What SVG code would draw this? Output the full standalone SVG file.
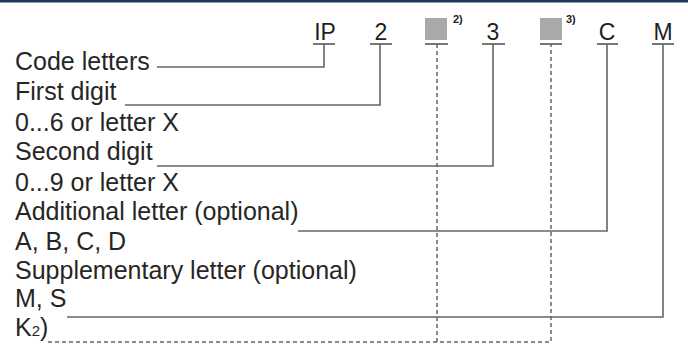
<svg xmlns="http://www.w3.org/2000/svg" width="688" height="347" viewBox="0 0 688 347">
<style>
.lbl{font-family:"Liberation Sans",Arial,sans-serif;font-size:25px;fill:#262626}
.hd{font-family:"Liberation Sans",Arial,sans-serif;font-size:23px;fill:#1e1e1e;text-anchor:middle}
.sup{font-family:"Liberation Sans",Arial,sans-serif;font-size:11px;font-weight:bold;fill:#1e1e1e}
.ln{fill:none;stroke:#666;stroke-width:1.6}
.dl{fill:none;stroke:#666;stroke-width:1.5;stroke-dasharray:4 3}
.ul{stroke:#555;stroke-width:1.6}
.sq{fill:#a9a9a9}
</style>
<rect x="0" y="0" width="688" height="347" fill="#fff"/>
<rect x="0" y="0" width="688" height="2.5" fill="#1b3a5e"/>
<g id="header">
<g id="h-ip"><text class="hd" x="325" y="40">IP</text><line class="ul" x1="313" y1="44" x2="335" y2="44"/></g>
<g id="h-2"><text class="hd" x="381" y="40">2</text><line class="ul" x1="370" y1="44" x2="392" y2="44"/></g>
<g id="h-sq2"><rect class="sq" x="425" y="18" width="22" height="22"/><text class="sup" x="453" y="23">2)</text><line class="ul" x1="425" y1="44" x2="448" y2="44"/></g>
<g id="h-3"><text class="hd" x="493" y="40">3</text><line class="ul" x1="482" y1="44" x2="505" y2="44"/></g>
<g id="h-sq3"><rect class="sq" x="540" y="18" width="22" height="22"/><text class="sup" x="566" y="23">3)</text><line class="ul" x1="540" y1="44" x2="562" y2="44"/></g>
<g id="h-c"><text class="hd" x="607" y="40">C</text><line class="ul" x1="597" y1="44" x2="618" y2="44"/></g>
<g id="h-m"><text class="hd" x="663" y="40">M</text><line class="ul" x1="652" y1="44" x2="674" y2="44"/></g>
</g>
<g id="labels">
<g id="l-code"><text class="lbl" x="15" y="70">Code letters</text></g>
<g id="l-first"><text class="lbl" x="15" y="100">First digit</text></g>
<g id="l-06"><text class="lbl" x="15" y="131">0...6 or letter X</text></g>
<g id="l-second"><text class="lbl" x="15" y="160">Second digit</text></g>
<g id="l-09"><text class="lbl" x="15" y="191">0...9 or letter X</text></g>
<g id="l-add"><text class="lbl" x="15" y="220">Additional letter (optional)</text></g>
<g id="l-abcd"><text class="lbl" x="15" y="250">A, B, C, D</text></g>
<g id="l-supp"><text class="lbl" x="15" y="279">Supplementary letter (optional)</text></g>
<g id="l-ms"><text class="lbl" x="15" y="307">M, S</text></g>
<g id="l-k2"><text class="lbl" x="15" y="336">K<tspan font-size="15">2</tspan>)</text></g>
</g>
<g id="connectors">
<polyline class="ln" points="157,67 324,67 324,44"/>
<polyline class="ln" points="125,105 380,105 380,44"/>
<polyline class="ln" points="157,166 493,166 493,44"/>
<polyline class="ln" points="298,231 607,231 607,44"/>
<polyline class="ln" points="67,317 663,317 663,44"/>
<line class="dl" x1="437" y1="44" x2="437" y2="342"/>
<polyline class="dl" points="48,342 551,342 551,44"/>
</g>
</svg>
